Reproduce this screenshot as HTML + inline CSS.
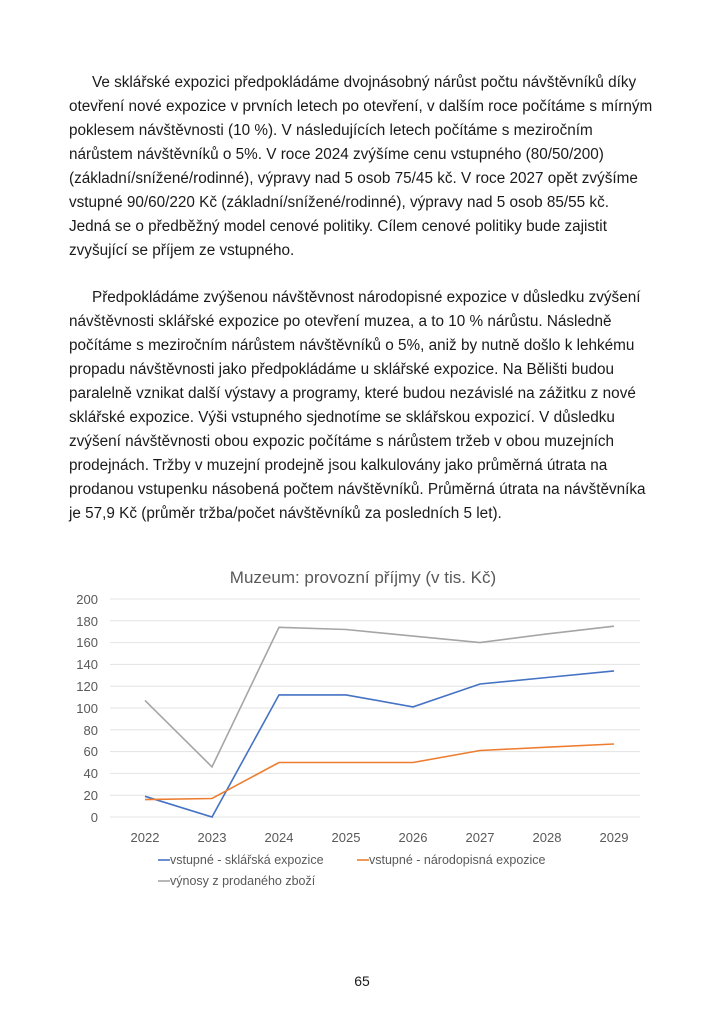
<!DOCTYPE html>
<html><head><meta charset="utf-8"><style>
body{margin:0;background:#fff;width:724px;height:1024px;position:relative;overflow:hidden;font-family:"Liberation Sans",sans-serif;color:#1a1a1a}
.l{position:absolute;left:69px;font-size:15.3px;white-space:nowrap;letter-spacing:0}
svg{position:absolute;left:0;top:0}
</style></head><body>
<div class="l" style="top:74px;left:92px">Ve sklářské expozici předpokládáme dvojnásobný nárůst počtu návštěvníků díky</div>
<div class="l" style="top:98px">otevření nové expozice v prvních letech po otevření, v dalším roce počítáme s mírným</div>
<div class="l" style="top:122px">poklesem návštěvnosti (10 %). V následujících letech počítáme s meziročním</div>
<div class="l" style="top:146px">nárůstem návštěvníků o 5%. V roce 2024 zvýšíme cenu vstupného (80/50/200)</div>
<div class="l" style="top:170px">(základní/snížené/rodinné), výpravy nad 5 osob 75/45 kč. V roce 2027 opět zvýšíme</div>
<div class="l" style="top:194px">vstupné 90/60/220 Kč (základní/snížené/rodinné), výpravy nad 5 osob 85/55 kč.</div>
<div class="l" style="top:218px">Jedná se o předběžný model cenové politiky. Cílem cenové politiky bude zajistit</div>
<div class="l" style="top:242px">zvyšující se příjem ze vstupného.</div>

<div class="l" style="top:289px;left:92px">Předpokládáme zvýšenou návštěvnost národopisné expozice v důsledku zvýšení</div>
<div class="l" style="top:313px">návštěvnosti sklářské expozice po otevření muzea, a to 10 % nárůstu. Následně</div>
<div class="l" style="top:337px">počítáme s meziročním nárůstem návštěvníků o 5%, aniž by nutně došlo k lehkému</div>
<div class="l" style="top:361px">propadu návštěvnosti jako předpokládáme u sklářské expozice. Na Bělišti budou</div>
<div class="l" style="top:385px">paralelně vznikat další výstavy a programy, které budou nezávislé na zážitku z nové</div>
<div class="l" style="top:409px">sklářské expozice. Výši vstupného sjednotíme se sklářskou expozicí. V důsledku</div>
<div class="l" style="top:433px">zvýšení návštěvnosti obou expozic počítáme s nárůstem tržeb v obou muzejních</div>
<div class="l" style="top:457px">prodejnách. Tržby v muzejní prodejně jsou kalkulovány jako průměrná útrata na</div>
<div class="l" style="top:481px">prodanou vstupenku násobená počtem návštěvníků. Průměrná útrata na návštěvníka</div>
<div class="l" style="top:505px">je 57,9 Kč (průměr tržba/počet návštěvníků za posledních 5 let).</div>

<svg width="724" height="1024" font-family="Liberation Sans, sans-serif">
<text x="363" y="583" text-anchor="middle" font-size="17" fill="#595959">Muzeum: provozní příjmy (v tis. Kč)</text>
<g stroke="#e3e3e3" stroke-width="1">
<line x1="110" x2="640" y1="599" y2="599"/><line x1="110" x2="640" y1="620.8" y2="620.8"/>
<line x1="110" x2="640" y1="642.6" y2="642.6"/><line x1="110" x2="640" y1="664.4" y2="664.4"/>
<line x1="110" x2="640" y1="686.2" y2="686.2"/><line x1="110" x2="640" y1="708" y2="708"/>
<line x1="110" x2="640" y1="729.8" y2="729.8"/><line x1="110" x2="640" y1="751.6" y2="751.6"/>
<line x1="110" x2="640" y1="773.4" y2="773.4"/><line x1="110" x2="640" y1="795.2" y2="795.2"/>
<line x1="110" x2="640" y1="817" y2="817"/>
</g>
<g font-size="13" fill="#595959" text-anchor="end">
<text x="98" y="604">200</text><text x="98" y="626">180</text><text x="98" y="647">160</text>
<text x="98" y="669">140</text><text x="98" y="691">120</text><text x="98" y="713">100</text>
<text x="98" y="735">80</text><text x="98" y="756">60</text><text x="98" y="778">40</text>
<text x="98" y="800">20</text><text x="98" y="822">0</text>
</g>
<g font-size="13" fill="#595959" text-anchor="middle">
<text x="145" y="842">2022</text><text x="212" y="842">2023</text><text x="279" y="842">2024</text>
<text x="346" y="842">2025</text><text x="413" y="842">2026</text><text x="480" y="842">2027</text>
<text x="547" y="842">2028</text><text x="614" y="842">2029</text>
</g>
<polyline fill="none" stroke="#a5a5a5" stroke-width="1.6" points="145,700.4 212,766.9 279,627.3 346,629.5 413,636.1 480,642.6 547,633.9 614,626.2"/>
<polyline fill="none" stroke="#4472c4" stroke-width="1.6" points="145,796.3 212,817 279,694.9 346,694.9 413,706.9 480,684 547,677.5 614,670.9"/>
<polyline fill="none" stroke="#ed7d31" stroke-width="1.6" points="145,799.6 212,798.5 279,762.5 346,762.5 413,762.5 480,750.5 547,747.2 614,744"/>
<g font-size="12.5" fill="#595959">
<line x1="158" x2="170" y1="860" y2="860" stroke="#4472c4" stroke-width="1.6"/>
<text x="170" y="864">vstupné - sklářská expozice</text>
<line x1="357" x2="369" y1="860" y2="860" stroke="#ed7d31" stroke-width="1.6"/>
<text x="369" y="864">vstupné - národopisná expozice</text>
<line x1="158" x2="170" y1="881" y2="881" stroke="#a5a5a5" stroke-width="1.6"/>
<text x="170" y="885">výnosy z prodaného zboží</text>
</g>
<text x="362" y="986" text-anchor="middle" font-size="14" fill="#1a1a1a">65</text>
</svg>
</body></html>
